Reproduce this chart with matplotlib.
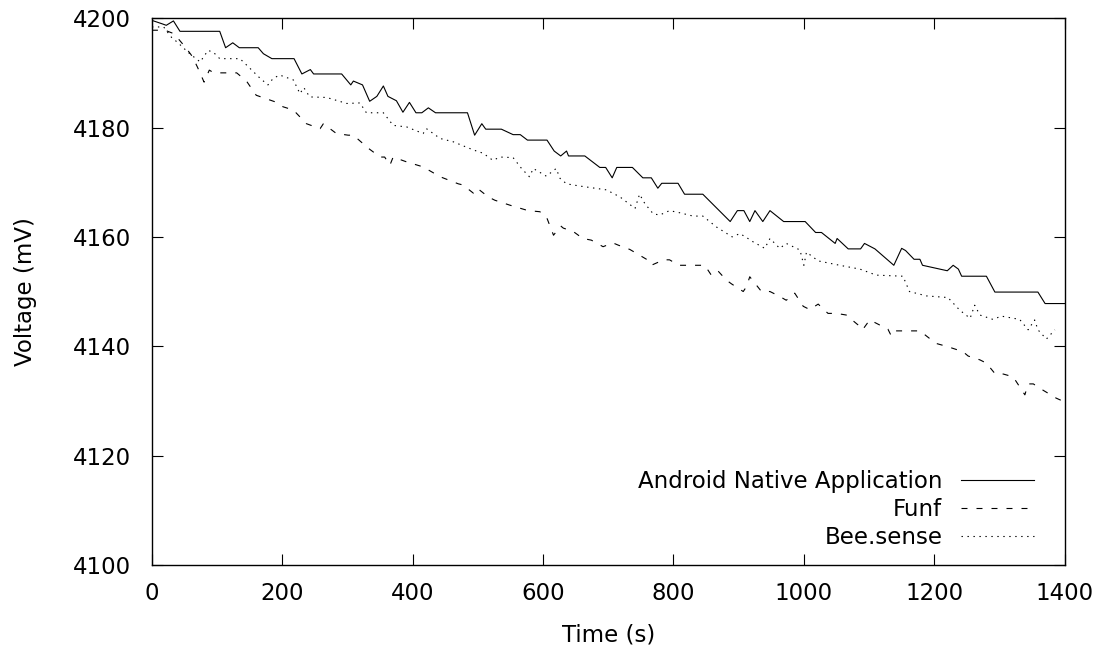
import matplotlib
matplotlib.use("Agg")
import matplotlib.pyplot as plt

# Android Native Application
t_android = [0, 15, 22, 33, 43, 104, 113, 124, 134, 163, 171, 184, 218, 230, 243, 248,
             291, 305, 309, 323, 334, 345, 355, 362, 375, 385, 395, 405, 414, 424, 435,
             484, 495, 506, 512, 536, 554, 565, 576, 606, 617, 627, 636, 639, 664, 687,
             696, 706, 713, 737, 753, 766, 776, 782, 807, 817, 845, 887, 898, 908, 917,
             925, 937, 948, 969, 1002, 1018, 1027, 1048, 1051, 1068, 1087, 1093, 1109,
             1138, 1150, 1156, 1169, 1178, 1182, 1220, 1229, 1237, 1242, 1280, 1293,
             1359, 1370, 1400]
v_android = [4199.6, 4199.0, 4198.7, 4199.5, 4197.6, 4197.6, 4194.6, 4195.5, 4194.6, 4194.6,
             4193.5, 4192.6, 4192.6, 4189.8, 4190.6, 4189.8, 4189.8, 4187.8, 4188.5, 4187.8,
             4184.8, 4185.7, 4187.6, 4185.7, 4184.9, 4182.8, 4184.6, 4182.7, 4182.7, 4183.6,
             4182.7, 4182.7, 4178.6, 4180.7, 4179.7, 4179.7, 4178.7, 4178.7, 4177.7, 4177.7,
             4175.7, 4174.8, 4175.7, 4174.8, 4174.8, 4172.7, 4172.7, 4170.8, 4172.7, 4172.7,
             4170.8, 4170.8, 4168.9, 4169.8, 4169.8, 4167.8, 4167.8, 4162.8, 4164.8, 4164.8,
             4162.8, 4164.8, 4162.8, 4164.8, 4162.8, 4162.8, 4160.8, 4160.8, 4158.8, 4159.7,
             4157.8, 4157.8, 4158.8, 4157.8, 4154.8, 4157.9, 4157.5, 4155.9, 4155.9, 4154.8,
             4153.8, 4154.8, 4154.1, 4152.8, 4152.8, 4149.9, 4149.9, 4147.8, 4147.8]

# Funf
t_funf = [0, 20, 33, 40, 52, 62, 70, 80, 88, 95, 130, 145, 160, 189, 201, 217, 237, 258,
          263, 283, 301, 309, 332, 350, 357, 365, 370, 391, 416, 442, 470, 477, 493, 499,
          516, 526, 549, 577, 595, 605, 616, 627, 631, 646, 661, 674, 692, 707, 715, 733,
          743, 760, 766, 785, 794, 808, 821, 848, 858, 868, 881, 889, 907, 912, 917, 925,
          935, 948, 963, 973, 986, 999, 1009, 1022, 1037, 1050, 1065, 1083, 1090, 1101,
          1111, 1129, 1134, 1139, 1178, 1193, 1203, 1221, 1244, 1252, 1270, 1280, 1293,
          1303, 1321, 1339, 1344, 1352, 1362, 1387, 1400]
v_funf = [4197.8, 4197.8, 4197.2, 4196.3, 4194.6, 4193.0, 4191.0, 4188.3, 4190.5, 4190.0,
          4190.0, 4188.5, 4185.9, 4184.7, 4183.8, 4183.2, 4180.7, 4179.8, 4180.7, 4178.9,
          4178.6, 4178.6, 4176.2, 4174.6, 4174.6, 4173.1, 4174.6, 4173.7, 4172.8, 4171.0,
          4169.7, 4169.5, 4168.0, 4168.9, 4167.3, 4166.7, 4165.8, 4164.8, 4164.6, 4163.7,
          4160.3, 4162.0, 4161.6, 4161.0, 4159.7, 4159.4, 4158.2, 4158.9, 4158.5, 4157.7,
          4157.0, 4155.8, 4154.8, 4155.8, 4155.8, 4154.8, 4154.8, 4154.8, 4153.0, 4153.8,
          4152.1, 4151.4, 4150.0, 4150.9, 4152.7, 4151.5, 4150.0, 4150.0, 4149.1, 4148.4,
          4149.7, 4147.3, 4146.7, 4147.7, 4146.0, 4146.0, 4145.7, 4143.9, 4143.0, 4144.8,
          4144.2, 4143.1, 4141.9, 4142.8, 4142.8, 4141.4, 4140.5, 4139.9, 4139.0, 4138.2,
          4137.5, 4136.9, 4135.0, 4135.0, 4134.4, 4131.1, 4133.1, 4133.1, 4132.3, 4130.5,
          4129.8]

# Bee.sense
t_bee = [0, 18, 30, 40, 48, 58, 74, 86, 94, 104, 135, 148, 166, 178, 186, 196, 217, 227,
         233, 242, 268, 299, 319, 329, 355, 370, 391, 416, 421, 442, 462, 493, 508, 523,
         534, 554, 567, 579, 585, 605, 620, 626, 636, 656, 697, 718, 741, 748, 756, 769,
         779, 794, 810, 830, 845, 866, 890, 902, 917, 922, 940, 948, 963, 973, 994, 1000,
         1004, 1022, 1055, 1086, 1111, 1152, 1162, 1188, 1221, 1239, 1255, 1262, 1270,
         1290, 1303, 1331, 1344, 1354, 1359, 1372, 1385]
v_bee = [4198.4, 4198.4, 4196.5, 4195.5, 4194.6, 4193.5, 4192.0, 4194.1, 4193.8, 4192.6,
         4192.6, 4191.1, 4189.0, 4187.8, 4189.0, 4189.6, 4188.7, 4186.2, 4187.3, 4185.6,
         4185.5, 4184.4, 4184.5, 4182.7, 4182.7, 4180.4, 4180.1, 4178.9, 4179.8, 4178.0,
         4177.4, 4175.9, 4175.3, 4174.0, 4174.6, 4174.5, 4172.5, 4171.0, 4172.5, 4171.1,
         4172.5, 4170.7, 4169.7, 4169.3, 4168.6, 4167.3, 4165.2, 4167.8, 4166.1, 4164.2,
         4164.0, 4164.8, 4164.4, 4163.8, 4163.8, 4161.8, 4160.0, 4160.6, 4159.5, 4159.1,
         4157.9, 4159.7, 4157.9, 4158.8, 4157.6, 4154.8, 4157.2, 4155.6, 4154.8, 4154.1,
         4153.0, 4152.8, 4150.0, 4149.2, 4148.9, 4146.6, 4145.1, 4147.5, 4145.7, 4144.9,
         4145.5, 4144.9, 4143.0, 4144.8, 4143.0, 4141.3, 4143.0]

plt.rcParams['font.family'] = 'DejaVu Sans'
plt.rcParams['font.size'] = 16.5
plt.rcParams['lines.scale_dashes'] = False

fig = plt.figure(figsize=(11.09, 6.5), dpi=100)
ax = fig.add_axes([0.137, 0.131, 0.823, 0.841])

ax.plot(t_android, v_android, color='black', lw=0.8, label='Android Native Application')
ax.plot(t_funf, v_funf, color='black', lw=0.8, linestyle=(0, (4.3, 6.5)), label='Funf')
ax.plot(t_bee, v_bee, color='black', lw=0.8, linestyle=(0, (1.0, 3.3)), label='Bee.sense')

ax.set_xlim(0, 1400)
ax.set_ylim(4100, 4200)
ax.set_xticks(range(0, 1401, 200))
ax.set_yticks(range(4100, 4201, 20))
ax.tick_params(direction='in', length=8, width=0.8, top=True, right=True)
ax.tick_params(axis='x', pad=12.5)
ax.tick_params(axis='y', pad=15)
for s in ax.spines.values():
    s.set_linewidth(1.0)

ax.set_xlabel('Time (s)', labelpad=13)
ax.set_ylabel('Voltage (mV)', labelpad=26)

ax.legend(loc='lower right', frameon=False, markerfirst=False, handlelength=3.2,
          labelspacing=0.22, borderaxespad=0.3, bbox_to_anchor=(0.984, 0.0),
          handletextpad=0.8)

fig.savefig('out.png')
